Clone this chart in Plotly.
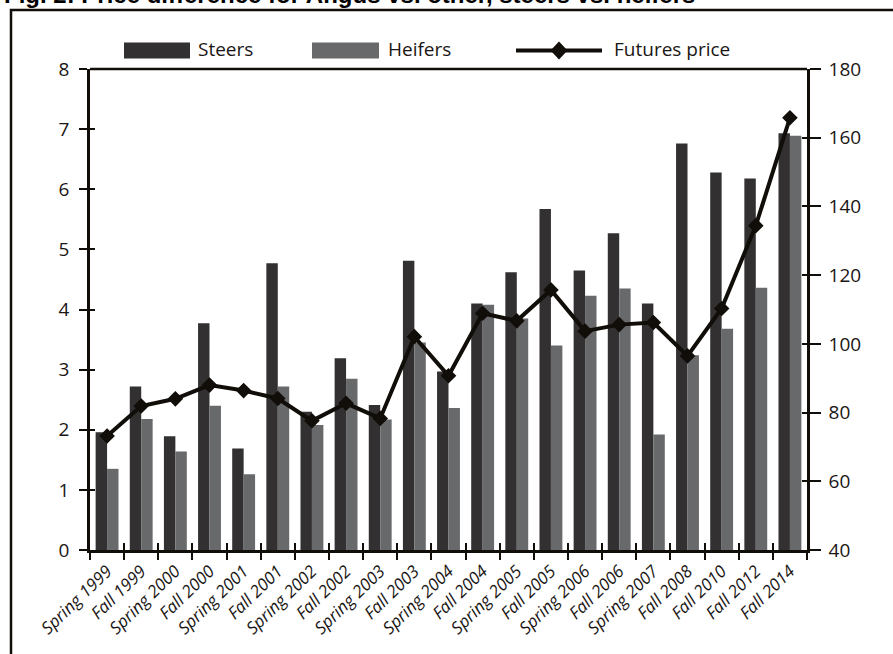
import plotly.graph_objects as go

categories = ["Spring 1999", "Fall 1999", "Spring 2000", "Fall 2000", "Spring 2001",
              "Fall 2001", "Spring 2002", "Fall 2002", "Spring 2003", "Fall 2003",
              "Spring 2004", "Fall 2004", "Spring 2005", "Fall 2005", "Spring 2006",
              "Fall 2006", "Spring 2007", "Fall 2008", "Fall 2010", "Fall 2012", "Fall 2014"]
steers = [1.96, 2.72, 1.89, 3.77, 1.69, 4.77, 2.30, 3.19, 2.41, 4.81,
          2.97, 4.10, 4.62, 5.67, 4.65, 5.27, 4.10, 6.76, 6.28, 6.18, 6.93]
heifers = [1.35, 2.18, 1.64, 2.40, 1.26, 2.72, 2.08, 2.85, 2.17, 3.45,
           2.36, 4.08, 3.85, 3.40, 4.23, 4.35, 1.92, 3.24, 3.68, 4.36, 6.89]
futures = [73.2, 81.9, 84.0, 88.0, 86.4, 84.1, 77.6, 82.7, 78.3, 102.1,
           90.7, 108.9, 106.7, 115.7, 103.7, 105.6, 106.2, 96.5, 110.3, 134.4, 165.8]
left_ticks = [0, 1, 2, 3, 4, 5, 6, 7, 8]
right_ticks = [40, 60, 80, 100, 120, 140, 160, 180]

STEER_C = "#323031"
HEIFER_C = "#68696b"
LINE_C = "#110d09"
AX_C = "#110d09"
FONT = "Open Sans"

W, H = 893, 654
ML, MR, MT, MB = 90, 86, 69, 104
PW, PH = W - ML - MR, H - MT - MB

def px_x(p):
    return (p - ML) / PW

def px_y(p):
    return 1 + (MT - p) / PH

fig = go.Figure()
fig.add_trace(go.Bar(x=categories, y=steers, name="Steers", marker_color=STEER_C,
                     marker_line_width=0, yaxis="y"))
fig.add_trace(go.Bar(x=categories, y=heifers, name="Heifers", marker_color=HEIFER_C,
                     marker_line_width=0, yaxis="y"))
fig.add_trace(go.Scatter(x=categories, y=futures, name="Futures price", yaxis="y2",
                         mode="lines+markers", line=dict(color=LINE_C, width=4),
                         marker=dict(symbol="diamond", size=12, color=LINE_C)))
# empty helper traces so the overlay tick axes are drawn
fig.add_trace(go.Scatter(x=[], y=[], xaxis="x2", yaxis="y3", showlegend=False))
fig.add_trace(go.Scatter(x=[], y=[], xaxis="x2", yaxis="y4", showlegend=False))

n = len(categories)
tickfont = dict(family=FONT, size=19, color="#1a1614")

fig.update_layout(
    width=W, height=H,
    margin=dict(l=ML, r=MR, t=MT, b=MB),
    paper_bgcolor="white", plot_bgcolor="white",
    showlegend=False,
    barmode="group", bargap=0.33, bargroupgap=0,
    xaxis=dict(type="category", categoryarray=categories, range=[-0.5, n - 0.5],
               tickson="boundaries", ticks="outside", ticklen=7, tickwidth=2,
               tickcolor=AX_C, showline=True, linecolor=AX_C, linewidth=2.5,
               tickangle=-44, showgrid=False, zeroline=False, ticklabelstandoff=2,
               tickfont=dict(family=FONT, size=17, style="italic", color="#1a1614")),
    xaxis2=dict(overlaying="x", anchor="y", range=[-0.5, n - 0.5],
                tickvals=[i + 0.5 for i in range(n - 1)], ticks="inside", ticklen=7,
                tickwidth=2, tickcolor=AX_C, showticklabels=False, showline=False,
                showgrid=False, zeroline=False),
    yaxis=dict(range=[0, 8], tickvals=left_ticks, ticks="outside", ticklen=8, tickwidth=2,
               tickcolor=AX_C, showline=True, linecolor=AX_C, linewidth=2.5,
               mirror=False, showgrid=False, zeroline=False, tickfont=tickfont,
               ticklabelstandoff=6),
    yaxis2=dict(range=[40, 180], tickvals=right_ticks, overlaying="y", side="right",
                anchor="x", ticks="outside", ticklen=11, tickwidth=2, tickcolor=AX_C,
                showline=True, linecolor=AX_C, linewidth=2.5, showgrid=False,
                zeroline=False, tickfont=tickfont, ticklabelstandoff=4),
    yaxis3=dict(range=[0, 8], tickvals=left_ticks, overlaying="y", side="left", anchor="x2",
                ticks="inside", ticklen=5, tickwidth=2, tickcolor=AX_C,
                showticklabels=False, showline=False, showgrid=False, zeroline=False),
    yaxis4=dict(range=[40, 180], tickvals=right_ticks, overlaying="y", side="right",
                anchor="x2", ticks="inside", ticklen=5, tickwidth=2, tickcolor=AX_C,
                showticklabels=False, showline=False, showgrid=False, zeroline=False),
)

shapes = []
# top border of plot area
shapes.append(dict(type="line", xref="paper", yref="paper", x0=0, x1=1, y0=1, y1=1,
                   line=dict(color=AX_C, width=2.5)))
# outer frame (runs off the page right and bottom)
shapes.append(dict(type="rect", xref="paper", yref="paper",
                   x0=px_x(11), x1=px_x(W + 20), y0=px_y(H + 20), y1=px_y(10),
                   line=dict(color=AX_C, width=2.5), layer="below"))
# legend swatches
shapes.append(dict(type="rect", xref="paper", yref="paper", x0=px_x(124), x1=px_x(190),
                   y0=px_y(58.5), y1=px_y(42.5), fillcolor=STEER_C, line_width=0))
shapes.append(dict(type="rect", xref="paper", yref="paper", x0=px_x(312), x1=px_x(379),
                   y0=px_y(58.5), y1=px_y(42.5), fillcolor=HEIFER_C, line_width=0))
shapes.append(dict(type="line", xref="paper", yref="paper", x0=px_x(516), x1=px_x(602),
                   y0=px_y(50.5), y1=px_y(50.5), line=dict(color=LINE_C, width=4)))
shapes.append(dict(type="path", xref="paper", yref="paper", xsizemode="pixel",
                   ysizemode="pixel", xanchor=px_x(559), yanchor=px_y(50.5),
                   path="M -8.5 0 L 0 9 L 8.5 0 L 0 -9 Z", fillcolor=LINE_C, line_width=0))
fig.update_layout(shapes=shapes)

annotations = []
leg_font = dict(family=FONT, size=19, color="#1a1614")
for label, xp in [("Steers", 196), ("Heifers", 386), ("Futures price", 612)]:
    annotations.append(dict(text=label, xref="paper", yref="paper", x=px_x(xp), y=px_y(49),
                            xanchor="left", yanchor="middle", showarrow=False, font=leg_font))
annotations.append(dict(text="<b>Fig. 2: Price difference for Angus vs. other, steers vs. heifers</b>",
                        xref="paper", yref="paper", x=px_x(2), y=px_y(10),
                        xanchor="left", yanchor="bottom", showarrow=False,
                        font=dict(family="Liberation Sans", size=24, color="#000000")))
fig.update_layout(annotations=annotations)

fig.write_html("out.html")
